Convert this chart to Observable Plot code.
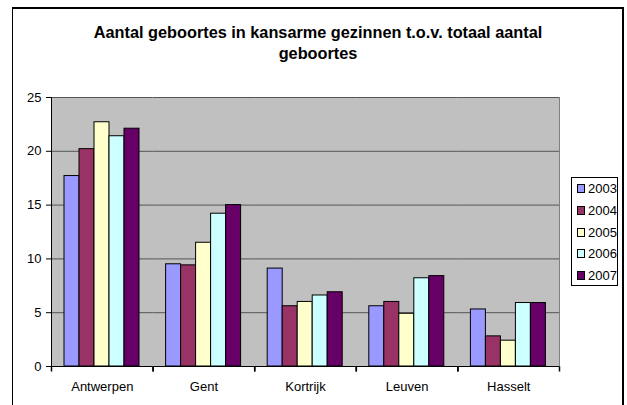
<!DOCTYPE html>
<html><head><meta charset="utf-8">
<script src="https://cdn.jsdelivr.net/npm/d3@7"></script>
<script src="https://cdn.jsdelivr.net/npm/@observablehq/plot@0.6"></script>
<style>
body{margin:0;background:#fff;font-family:"Liberation Sans",Arial,Helvetica,sans-serif;}
#wrap{position:relative;width:627px;height:405px;overflow:hidden;background:#fff;}
#border{position:absolute;left:12px;top:7px;width:609px;height:420px;border-left:1px solid #000;border-top:2px solid #000;border-right:2px solid #000;}
#title{position:absolute;left:12px;width:612px;top:22px;text-align:center;font-weight:bold;font-size:16.3px;line-height:21px;color:#000;}
#chart{position:absolute;left:0;top:0;}
#legend{position:absolute;left:571px;top:177px;width:47px;height:109px;border:1px solid #000;background:#fff;box-sizing:border-box;padding-top:0;}
.li{height:21.7px;display:flex;align-items:center;font-size:13px;color:#000;}
.sw{width:7px;height:7px;border:1px solid #000;margin-left:5px;margin-right:3px;}
</style></head>
<body>
<div id="wrap">
  <div id="border"></div>
  <div id="title">Aantal geboortes in kansarme gezinnen t.o.v. totaal aantal<br>geboortes</div>
  <div id="chart"></div>
  <div id="legend"></div>
</div>
<script>
const categories = ["Antwerpen", "Gent", "Kortrijk", "Leuven", "Hasselt"];
const years = ["2003", "2004", "2005", "2006", "2007"];
const v2003 = [17.7, 9.5, 9.1, 5.6, 5.3];
const v2004 = [20.2, 9.4, 5.6, 6.0, 2.8];
const v2005 = [22.7, 11.5, 6.0, 4.9, 2.4];
const v2006 = [21.4, 14.2, 6.6, 8.2, 5.9];
const v2007 = [22.1, 15.0, 6.9, 8.4, 5.9];
const colors = ["#9999FF", "#993366", "#FFFFCC", "#CCFFFF", "#660066"];
const yTicks = [0, 5, 10, 15, 20, 25];

const series = [v2003, v2004, v2005, v2006, v2007];
const rows = [];
categories.forEach((c, i) => years.forEach((y, j) => rows.push({cat: c, year: y, value: series[j][i]})));

const tickSym = {draw(ctx) { ctx.moveTo(0, 0); ctx.lineTo(0, 5); }};

const chart = Plot.plot({
  width: 627, height: 405,
  marginLeft: 51, marginRight: 68, marginTop: 97, marginBottom: 39,
  style: {fontFamily: "'Liberation Sans', Arial, Helvetica, sans-serif", fontSize: "13px", color: "#000", background: "transparent"},
  fx: {domain: categories, paddingInner: 0, paddingOuter: 0, round: false, label: null},
  x: {domain: years, paddingInner: 0, paddingOuter: 0.78, axis: null},
  y: {domain: [0, 25], label: null},
  color: {domain: years, range: colors},
  marks: [
    Plot.frame({fill: "#C0C0C0", stroke: "none", shapeRendering: "crispEdges"}),
    Plot.gridY(yTicks.slice(1), {stroke: "#555", strokeOpacity: 1}),
    Plot.frame({anchor: "right", facetAnchor: "right", stroke: "#808080"}),
    Plot.barY(rows, {fx: "cat", x: "year", y: "value", fill: "year", stroke: "#000", strokeWidth: 1}),
    Plot.ruleY([0], {stroke: "#000"}),
    Plot.frame({anchor: "left", facetAnchor: "left", stroke: "#000"}),
    Plot.dot([0], {frameAnchor: "bottom-left", symbol: tickSym, r: 5, stroke: "#000"}),
    Plot.dot([0], {frameAnchor: "bottom-right", symbol: tickSym, r: 5, stroke: "#000"}),
    Plot.axisY(yTicks, {tickSize: 5, tickPadding: 5, label: null}),
    Plot.axisFx({anchor: "bottom", tickSize: 0, tickPadding: 15, label: null})
  ]
});
document.getElementById("chart").appendChild(chart);

const legend = document.getElementById("legend");
years.forEach((y, j) => {
  const d = document.createElement("div");
  d.className = "li";
  d.innerHTML = `<span class="sw" style="background:${colors[j]}"></span><span>${y}</span>`;
  legend.appendChild(d);
});
</script>
</body></html>
